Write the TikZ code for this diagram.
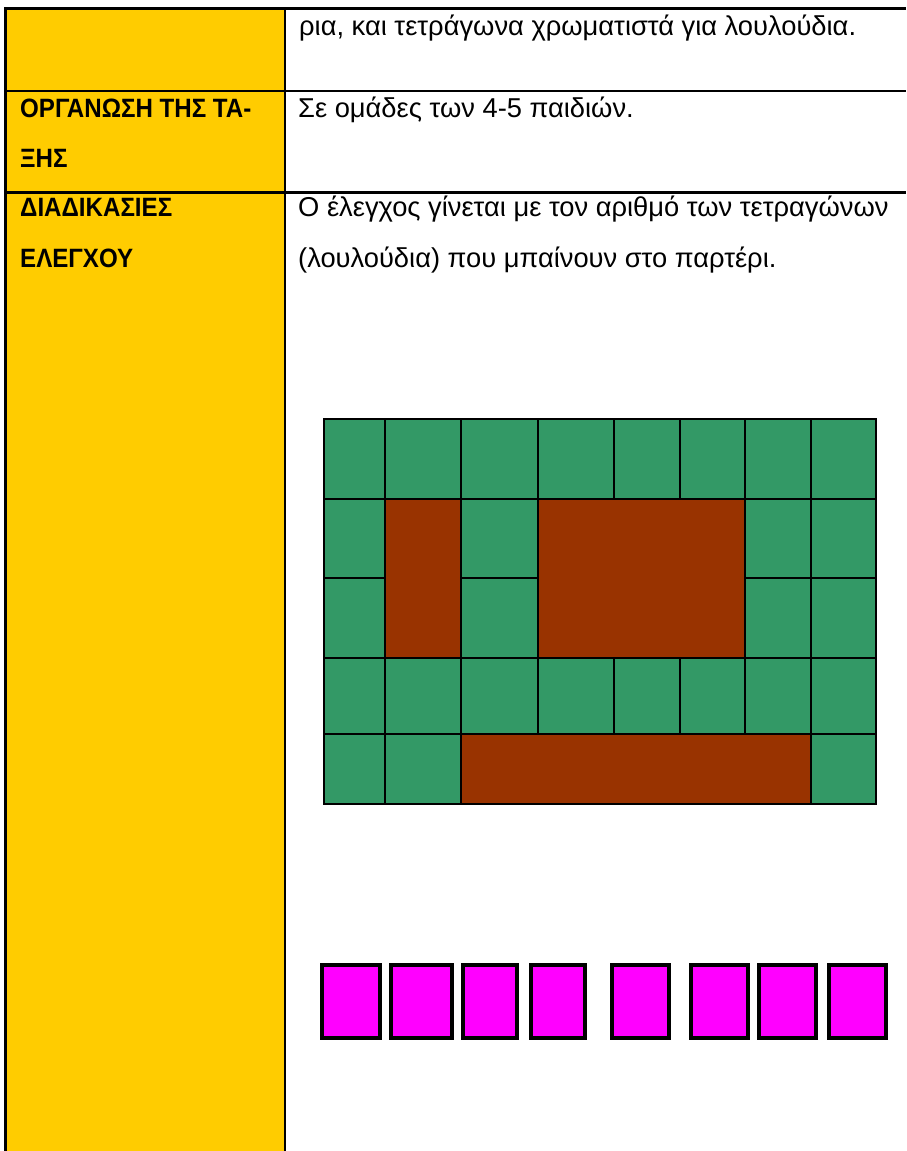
\documentclass[tikz,border=0pt]{standalone}
\usepackage{fontspec}
\setmainfont{Liberation Sans}
\newfontfamily\labelfont{Liberation Sans Bold}[FakeStretch=0.91]
\definecolor{hdryellow}{HTML}{FFCC00}
\definecolor{lawn}{HTML}{339966}
\definecolor{soil}{HTML}{993300}
\definecolor{flower}{HTML}{FF00FF}
\tikzset{
  body/.style={anchor=base west, inner sep=0pt, font=\fontsize{27.3}{27.3}\selectfont},
  label/.style={anchor=base west, inner sep=0pt, font=\fontsize{26.5}{26.5}\labelfont},
  rule/.style={line width=2.5pt, black},
  grasscell/.style={fill=lawn, draw=black, line width=2pt},
  soilcell/.style={fill=soil, draw=black, line width=2pt},
  flowerbox/.style={fill=flower, draw=black, line width=4pt}
}
\begin{document}
\begin{tikzpicture}[x=1pt, y=-1pt]
\useasboundingbox (0,0) rectangle (906,1151);
% table background
\fill[hdryellow] (5.5,8.5) rectangle (285,1152);
% table rules
\draw[rule] (4.25,8.5) -- (906,8.5);
\draw[rule] (4.25,91) -- (906,91);
\draw[rule] (4.25,192.5) -- (906,192.5);
\draw[rule] (5.5,8.5) -- (5.5,1152);
\draw[rule] (285,8.5) -- (285,1152);
% texts
\node[body] (t1) at (299,35) {ρια, και τετράγωνα χρωματιστά για λουλούδια.};
\node[label] (l2a) at (20,117) {ΟΡΓΑΝΩΣΗ ΤΗΣ ΤΑ-};
\node[label] (l2b) at (20,167) {ΞΗΣ};
\node[body] (t2) at (298,117) {Σε ομάδες των 4-5 παιδιών.};
\node[label] (l3a) at (20,216.5) {ΔΙΑΔΙΚΑΣΙΕΣ};
\node[label] (l3b) at (20,267.5) {ΕΛΕΓΧΟΥ};
\node[body] (t3a) at (298,216) {Ο έλεγχος γίνεται με τον αριθμό των τετραγώνων};
\node[body] (t3b) at (298,267) {(λουλούδια) που μπαίνουν στο παρτέρι.};
% garden grid
\def\cA{324}\def\cB{385}\def\cC{461}\def\cD{538}\def\cE{613.5}\def\cF{679.5}\def\cG{745}\def\cH{810.5}\def\cI{876}
\def\rA{418.5}\def\rB{498.5}\def\rC{578}\def\rD{657.5}\def\rE{733.5}\def\rF{804}
% row 1 and row 4
\foreach \xa/\xb in {\cA/\cB,\cB/\cC,\cC/\cD,\cD/\cE,\cE/\cF,\cF/\cG,\cG/\cH,\cH/\cI}{
  \draw[grasscell] (\xa,\rA) rectangle (\xb,\rB);
  \draw[grasscell] (\xa,\rD) rectangle (\xb,\rE);
}
% rows 2-3
\foreach \xa/\xb in {\cA/\cB,\cC/\cD,\cG/\cH,\cH/\cI}{
  \draw[grasscell] (\xa,\rB) rectangle (\xb,\rC);
  \draw[grasscell] (\xa,\rC) rectangle (\xb,\rD);
}
\draw[soilcell] (\cB,\rB) rectangle (\cC,\rD);
\draw[soilcell] (\cD,\rB) rectangle (\cG,\rD);
% row 5
\draw[grasscell] (\cA,\rE) rectangle (\cB,\rF);
\draw[grasscell] (\cB,\rE) rectangle (\cC,\rF);
\draw[soilcell] (\cC,\rE) rectangle (\cH,\rF);
\draw[grasscell] (\cH,\rE) rectangle (\cI,\rF);
% flowers
\foreach \xa/\xb in {320/381.5,388.5/454,461/519,529/587,610/671,689/750,757/818,826.5/888}{
  \draw[flowerbox] (\xa+2,965) rectangle (\xb-2,1038);
}
\end{tikzpicture}
\end{document}
